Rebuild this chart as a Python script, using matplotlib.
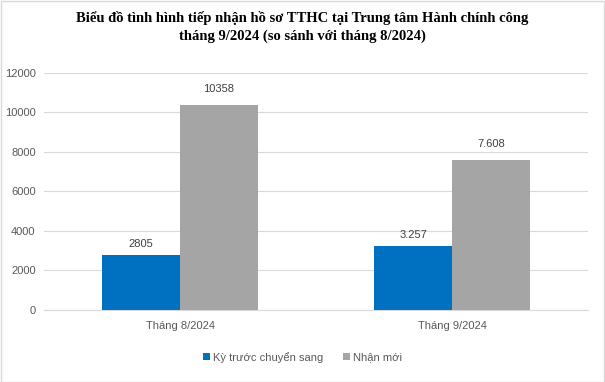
import matplotlib.pyplot as plt
import numpy as np

categories = ['Tháng 8/2024', 'Tháng 9/2024']
series_names = ['Kỳ trước chuyển sang', 'Nhận mới']
ky_truoc = [2805, 3257]
nhan_moi = [10358, 7608]
ky_truoc_labels = ['2805', '3.257']
nhan_moi_labels = ['10358', '7.608']
yticks = [0, 2000, 4000, 6000, 8000, 10000, 12000]

text_color = '#595959'
plt.rcParams['font.family'] = ['Liberation Sans', 'DejaVu Sans']

fig = plt.figure(figsize=(6.05, 3.82), dpi=100)
ax = fig.add_axes([0.0727, 0.1885, 0.8993, 0.6205])

x = np.arange(len(categories))
bw = 0.287
b1 = ax.bar(x - bw / 2, ky_truoc, bw, color='#0070C0', label=series_names[0], zorder=3)
b2 = ax.bar(x + bw / 2, nhan_moi, bw, color='#A5A5A5', label=series_names[1], zorder=3)
ax.bar_label(b1, labels=ky_truoc_labels, padding=4, fontsize=8, color='#404040')
ax.bar_label(b2, labels=nhan_moi_labels, padding=8, fontsize=8, color='#404040')

ax.set_xlim(-0.5, 1.5)
ax.set_ylim(0, 12000)
ax.set_yticks(yticks)
ax.set_yticklabels([str(v) for v in yticks])
ax.set_xticks(x)
ax.set_xticklabels(categories)
ax.tick_params(axis='both', length=0, labelsize=8, colors=text_color)
ax.tick_params(axis='x', pad=8)
ax.tick_params(axis='y', pad=6)
ax.grid(axis='y', color='#D9D9D9', linewidth=0.8, zorder=0)
for s in ['top', 'right', 'left']:
    ax.spines[s].set_visible(False)
ax.spines['bottom'].set_color('#D9D9D9')

fig.text(0.5, 0.97, 'Biểu đồ tình hình tiếp nhận hồ sơ TTHC tại Trung tâm Hành chính công\ntháng 9/2024 (so sánh với tháng 8/2024)',
         ha='center', va='top', fontsize=10.5, fontweight='bold', family='Liberation Serif', linespacing=1.35)

fig.legend(loc='center', bbox_to_anchor=(0.5, 0.065), ncol=2, frameon=False, fontsize=8,
           handlelength=0.6, handleheight=0.6, handletextpad=0.3, columnspacing=1.8, labelcolor=text_color)

fig.patches.append(plt.Rectangle((0.001, 0.001), 0.997, 0.997, transform=fig.transFigure,
                                 fill=False, edgecolor='#D9D9D9', linewidth=1))

fig.savefig('out.png', dpi=100)
